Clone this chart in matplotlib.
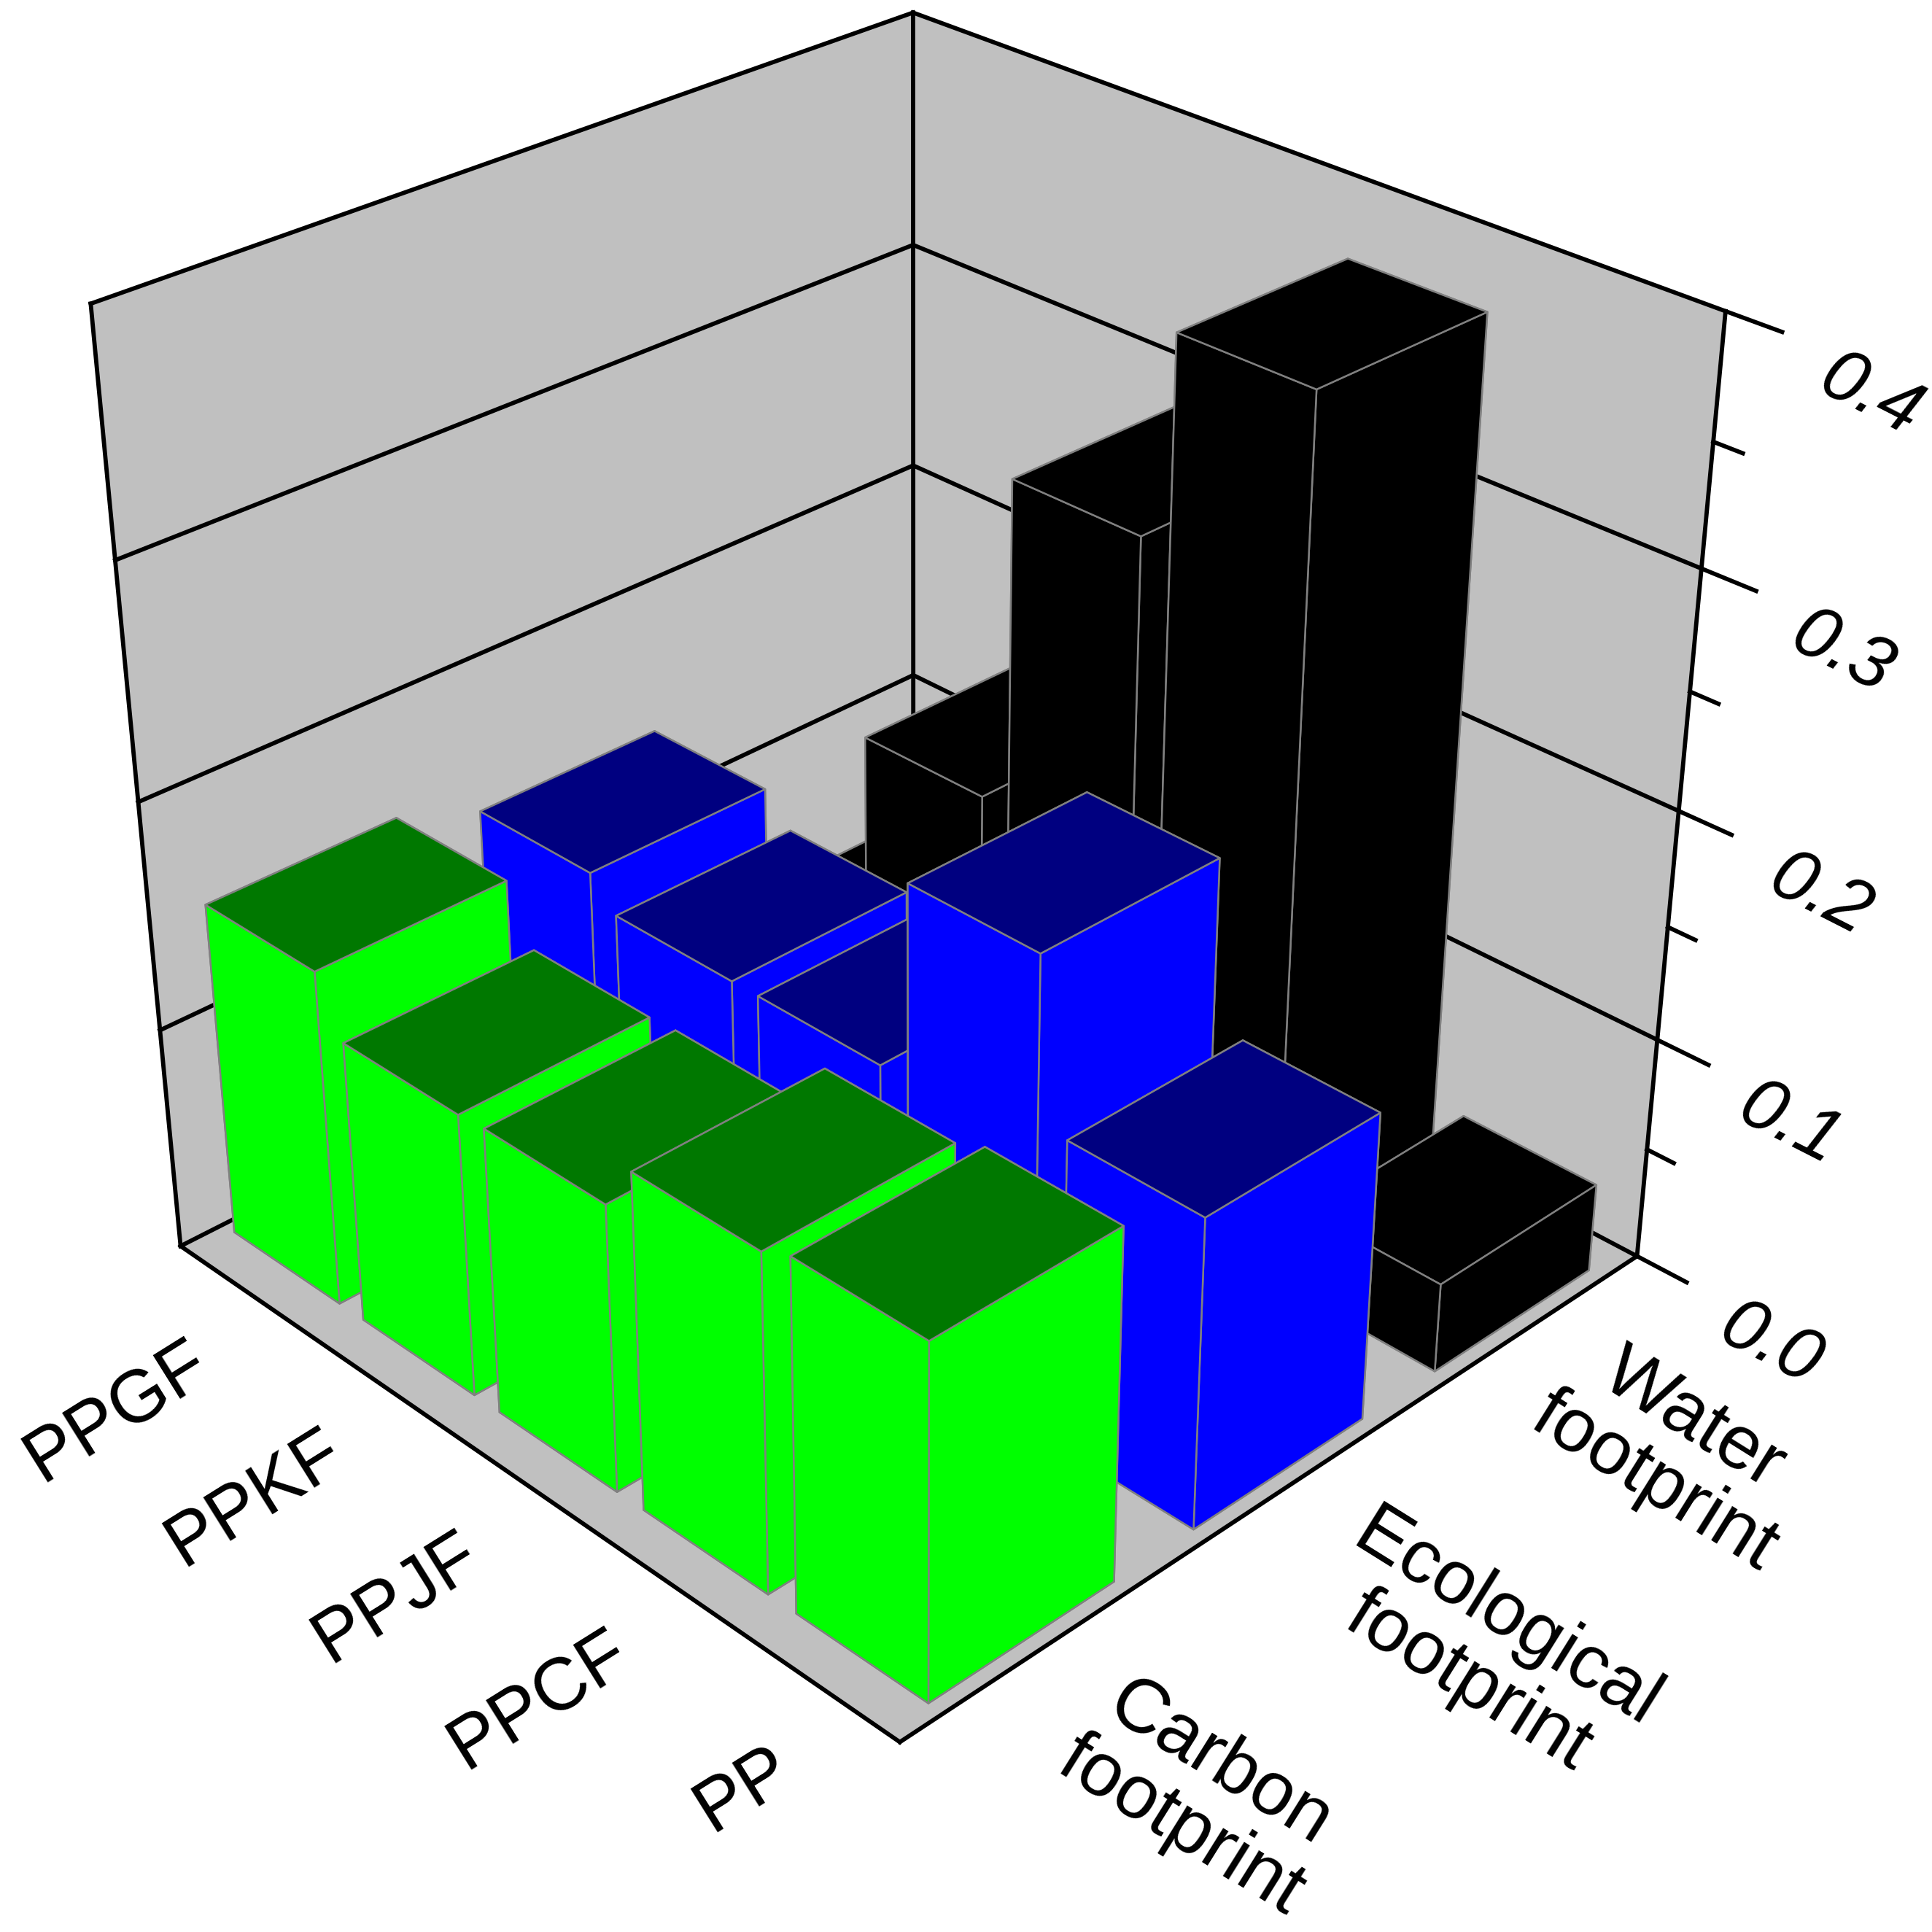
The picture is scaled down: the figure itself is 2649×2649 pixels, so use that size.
import matplotlib
matplotlib.use("Agg")
import matplotlib.pyplot as plt
from mpl_toolkits.mplot3d.art3d import Poly3DCollection

# values
samples = ["PP", "PPCF", "PPJF", "PPKF", "PPGF"]
metrics = ["Carbon\nfootprint", "Ecological\nfootprint", "Water\nfootprint"]
carbon = [0.153, 0.1475, 0.1265, 0.1255, 0.150]
ecological = [0.136, 0.207, 0.123, 0.123, 0.136]
water = [0.04, 0.378, 0.292, 0.149, 0.035]
z_ticks = [0.0, 0.1, 0.2, 0.3, 0.4]

plt.rcParams['font.family'] = ['Liberation Sans', 'DejaVu Sans']

fig = plt.figure(figsize=(2649 / 300, 2649 / 300), dpi=300)
ax = fig.add_axes([-0.0174, 0.0957, 0.9481, 0.9481], projection='3d', computed_zorder=False)
ax.view_init(30.301, 225.671, 0.062)
ax.set_proj_type('persp', focal_length=0.481)
ax.set_box_aspect((1, 1.004, 1.002))
ax.set_axis_off()


def line(xs, ys, zs, lw=1.4, zo=2):
    ax.plot(xs, ys, zs, color='k', lw=lw, solid_capstyle='projecting', zorder=zo)


# floor and the two walls
for verts in ([(0, 0, 0), (3, 0, 0), (3, 5, 0), (0, 5, 0)],
              [(0, 5, 0), (3, 5, 0), (3, 5, .4), (0, 5, .4)],
              [(3, 0, 0), (3, 5, 0), (3, 5, .4), (3, 0, .4)]):
    ax.add_collection3d(Poly3DCollection([verts], facecolor='#c0c0c0', edgecolor='none', zorder=1))

for z in z_ticks:
    line([0, 3], [5, 5], [z, z])
    line([3, 3], [5, -0.3], [z, z])
    if z < 0.4:
        line([3, 3], [0, -0.16], [z + 0.05, z + 0.05])
line([0, 3], [0, 0], [0, 0])
line([0, 0], [0, 5], [0, 0])
line([0, 0], [5, 5], [0, .4])
line([3, 3], [5, 5], [0, .4])
line([3, 3], [0, 0], [0, .4])

series = [carbon, ecological, water]
cols = [('#00ff00', '#007800'), ('#0000ff', '#000080'), ('#000000', '#000000')]

# back to front so nearer bars cover the others
zo = 3
for xi in [2, 1, 0]:
    for yi in [4, 3, 2, 1, 0]:
        side, top = cols[xi]
        ax.bar3d(xi + 0.155, yi + 0.09, 0, 0.69, 0.82, series[xi][yi],
                 color=[side, top, side, side, side, side],
                 shade=False, edgecolor='#808080', linewidth=0.6, zorder=zo)
        zo += 1

ax.set_xlim(0, 3)
ax.set_ylim(0, 5)
ax.set_zlim(0, 0.4)


def put(cx, cy, s, rot, **kw):
    # position given in 1568 px picture coordinates
    fig.text(cx / 1568, 1 - cy / 1568, s, rotation=rot, rotation_mode='anchor',
             ha='center', va='center', **kw)


for s, (cx, cy) in zip(samples, [(603, 1452), (438, 1380), (322, 1297), (207, 1216), (95, 1146)]):
    put(cx, cy, s, 32, fontsize=24.5)
for s, (cx, cy) in zip(metrics, [(974, 1457), (1207, 1340), (1358, 1178)]):
    put(cx, cy, s, -32, fontsize=25, linespacing=1.05, multialignment='center')
for t, (cx, cy) in zip(z_ticks, [(1437, 1092), (1452, 913), (1477, 727), (1495, 530), (1518, 322)]):
    put(cx, cy, "%.1f" % t, -27, fontsize=24.5, style='italic')

fig.savefig("out.png", dpi=300)
